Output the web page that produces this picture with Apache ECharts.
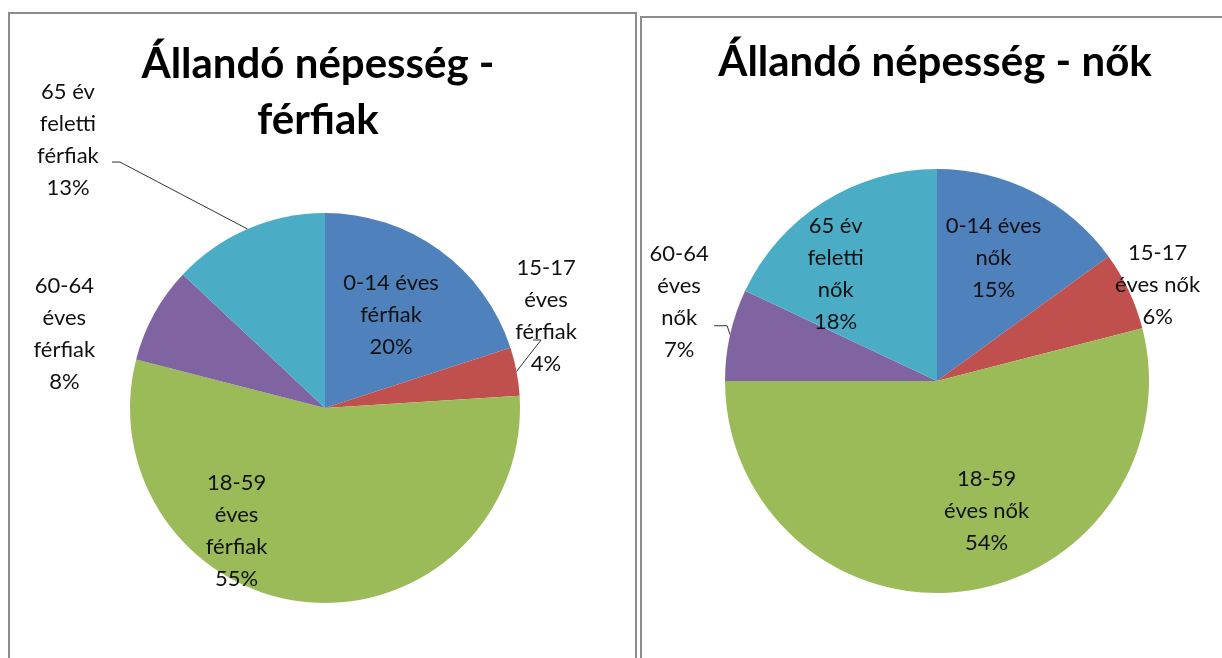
<!DOCTYPE html>
<html>
<head>
<meta charset="utf-8">
<script src="https://cdn.jsdelivr.net/npm/echarts@6.0.0/dist/echarts.min.js"></script>
<style>
  html, body { margin: 0; background: #fff; }
  #chart { width: 1222px; height: 658px; }
</style>
</head>
<body>
<div id="chart"></div>
<script>
// férfiak
const maleCategories = ['0-14 éves férfiak', '15-17 éves férfiak', '18-59 éves férfiak', '60-64 éves férfiak', '65 év feletti férfiak'];
const maleShares = [20, 4, 55, 8, 13];
// nők
const femaleCategories = ['0-14 éves nők', '15-17 éves nők', '18-59 éves nők', '60-64 éves nők', '65 év feletti nők'];
const femaleShares = [15, 6, 54, 7, 18];

const sliceColors = ['#4F81BD', '#C0504D', '#9BBB59', '#8064A2', '#4BACC6'];

// label look, Excel style (some inside, some outside with a leader line)
// wrap = words per line of the label name
const maleLabelPos = ['inside', 'outside', 'inside', 'inside', 'outside'];
const maleWrap = [[2, 1], [1, 1, 1], [1, 1, 1], [1, 1, 1], [2, 1, 1]];
const maleLabelShift = [[7, -12], [29.5, -55.5], [-79, 23], [-172.6, -26], [-179.6, -89.5]];
const maleLeader = [null, [-5, 24, -13], null, null, [52, 22.5, 44]];

const femaleLabelPos = ['inside', 'inside', 'inside', 'outside', 'inside'];
const femaleWrap = [[2, 1], [1, 2], [1, 2], [1, 1, 1], [2, 1, 1]];
const femaleLabelShift = [[7, -26], [122, -50], [36, 22], [-51, -33], [-43, -15]];
const femaleLeader = [null, null, null, [48, 24, 35], null];

const chart = echarts.init(document.getElementById('chart'));

function wrapName(name, counts) {
  const words = name.split(' ');
  const lines = [];
  let k = 0;
  counts.forEach(n => { lines.push(words.slice(k, k + n).join(' ')); k += n; });
  return lines.join('\n');
}

// moves a label from the spot the pie gave it; leader = [elbowX, elbowY, endX] relative to the label centre
function placeLabels(shift, leader) {
  return function (p) {
    const s = shift[p.dataIndex];
    const l = leader[p.dataIndex];
    const pts = p.labelLinePoints;
    const base = (l && pts) ? pts[0] : [p.labelRect.x + p.labelRect.width / 2, p.labelRect.y + p.labelRect.height / 2];
    const x = base[0] + s[0];
    const y = base[1] + s[1];
    const out = { x: x, y: y, align: 'center', verticalAlign: 'middle' };
    if (l && pts) {
      out.labelLinePoints = [pts[0], [x + l[0], y + l[1]], [x + l[2], y + l[1]]];
    }
    return out;
  };
}

function pieSeries(names, shares, center, radius, pos, wrap, shift, leader) {
  return {
    type: 'pie',
    center: center,
    radius: radius,
    startAngle: 90,
    clockwise: true,
    avoidLabelOverlap: false,
    percentPrecision: 0,
    animation: false,
    emphasis: { disabled: true },
    itemStyle: { borderWidth: 0 },
    label: {
      color: '#111',
      fontFamily: 'Lato',
      fontSize: 22,
      lineHeight: 32,
      formatter: p => wrapName(p.name, wrap[p.dataIndex]) + '\n' + p.percent + '%'
    },
    labelLine: { length: 15, length2: 15, lineStyle: { color: '#333', width: 1 } },
    labelLayout: placeLabels(shift, leader),
    data: names.map((name, i) => ({
      name: name,
      value: shares[i],
      itemStyle: { color: sliceColors[i] },
      label: { position: pos[i] },
      labelLine: { show: !!leader[i] }
    }))
  };
}

const titleStyle = { fontFamily: 'Lato', fontWeight: 'bold', fontSize: 42, lineHeight: 56, color: '#000' };

const option = {
  backgroundColor: '#fff',
  animation: false,
  title: [
    { text: 'Állandó népesség -\nférfiak', left: 318, top: 36, textAlign: 'center', padding: 0, textStyle: titleStyle },
    { text: 'Állandó népesség - nők', left: 935, top: 34, textAlign: 'center', padding: 0, textStyle: titleStyle }
  ],
  graphic: [
    { type: 'rect', shape: { x: 9, y: 13, width: 627, height: 700 }, style: { fill: null, stroke: '#8c8c8c', lineWidth: 2 }, silent: true },
    { type: 'rect', shape: { x: 641, y: 17, width: 640, height: 700 }, style: { fill: null, stroke: '#8c8c8c', lineWidth: 2 }, silent: true }
  ],
  series: [
    pieSeries(maleCategories, maleShares, [325, 408], 195, maleLabelPos, maleWrap, maleLabelShift, maleLeader),
    pieSeries(femaleCategories, femaleShares, [937, 381], 212, femaleLabelPos, femaleWrap, femaleLabelShift, femaleLeader)
  ]
};

chart.setOption(option);
window.addEventListener('resize', () => chart.resize());
</script>
</body>
</html>
